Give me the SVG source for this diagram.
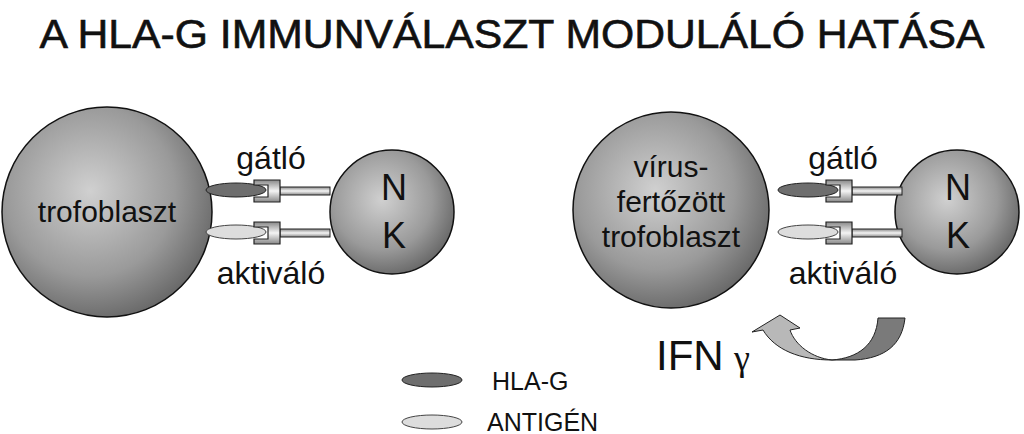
<svg xmlns="http://www.w3.org/2000/svg" width="1024" height="434" viewBox="0 0 1024 434">
<defs>
<radialGradient id="cell" cx="0.42" cy="0.4" r="0.62"><stop offset="0" stop-color="#d0d0d0"/><stop offset="0.65" stop-color="#9a9a9a"/><stop offset="1" stop-color="#6a6a6a"/></radialGradient>
<linearGradient id="rec" x1="0" y1="0" x2="0" y2="1"><stop offset="0" stop-color="#888"/><stop offset="0.5" stop-color="#f4f4f4"/><stop offset="1" stop-color="#888"/></linearGradient>
<g id="receptor">
<rect x="280" y="187" width="50" height="8" fill="url(#rec)" stroke="#222" stroke-width="1"/>
<path d="M254,180 H280 V202 H254 V197 H268 V185 H254 Z" fill="url(#rec)" stroke="#222" stroke-width="1.2"/>
</g>
</defs>
<style>
.cell{fill:url(#cell);stroke:#111;stroke-width:1.5}
.t{font-family:"Liberation Sans",Arial,sans-serif;fill:#111}
.hla{fill:#6e6e6e;stroke:#222;stroke-width:1}
.ag{fill:#ddd;stroke:#444;stroke-width:1}
</style>
<text class="t" x="512" y="48" font-size="40" text-anchor="middle" textLength="945" lengthAdjust="spacingAndGlyphs" stroke="#111" stroke-width="0.6">A HLA-G IMMUNVÁLASZT MODULÁLÓ HATÁSA</text>
<g id="left-troph"><circle class="cell" cx="107" cy="212" r="105"/><text class="t" x="107" y="222" font-size="30" text-anchor="middle">trofoblaszt</text></g>
<g id="left-nk"><circle class="cell" cx="392" cy="212" r="62"/><text class="t" x="394" y="200" font-size="36" text-anchor="middle">N</text><text class="t" x="394" y="248" font-size="36" text-anchor="middle">K</text></g>
<g id="right-troph"><circle class="cell" cx="671" cy="210" r="98"/><text class="t" x="671" y="177" font-size="30" text-anchor="middle">vírus-</text><text class="t" x="671" y="212" font-size="30" text-anchor="middle">fertőzött</text><text class="t" x="671" y="247" font-size="30" text-anchor="middle">trofoblaszt</text></g>
<g id="right-nk"><circle class="cell" cx="957" cy="212" r="62"/><text class="t" x="958" y="200" font-size="36" text-anchor="middle">N</text><text class="t" x="958" y="248" font-size="36" text-anchor="middle">K</text></g>
<g id="connectors">
<ellipse class="hla" cx="236" cy="190" rx="30" ry="7"/>
<ellipse class="ag" cx="236" cy="232" rx="30" ry="7"/>
<use href="#receptor"/>
<use href="#receptor" transform="translate(0,42)"/>
<ellipse class="hla" cx="808" cy="190" rx="30" ry="7"/>
<ellipse class="ag" cx="808" cy="232" rx="30" ry="7"/>
<use href="#receptor" transform="translate(572,0)"/>
<use href="#receptor" transform="translate(572,42)"/>
<path d="M905,318 H878 C876,345 858,358 832,360 L855,360 C885,358 902,345 905,318 Z" fill="#7a7a7a" stroke="#222" stroke-width="1"/>
<path d="M832,360 C812,358 795,345 790,330 L800,328 L780,315 L752,332 L763,330 C775,350 800,360 832,360 Z" fill="#b8b8b8" stroke="#222" stroke-width="1"/>
</g>
<text class="t" x="271" y="169" font-size="32" text-anchor="middle">gátló</text>
<text class="t" x="271" y="284" font-size="32" text-anchor="middle">aktiváló</text>
<text class="t" x="843" y="169" font-size="32" text-anchor="middle">gátló</text>
<text class="t" x="843" y="284" font-size="32" text-anchor="middle">aktiváló</text>
<text class="t" x="656" y="370" font-size="42">IFN</text>
<text font-family="Liberation Serif,serif" x="734" y="370" font-size="36" fill="#111">γ</text>
<g id="legend">
<ellipse class="hla" cx="432" cy="380" rx="30" ry="7"/>
<text class="t" x="492" y="390" font-size="25">HLA-G</text>
<ellipse class="ag" cx="432" cy="422" rx="30" ry="7"/>
<text class="t" x="487" y="431" font-size="25">ANTIGÉN</text>
</g>
</svg>
